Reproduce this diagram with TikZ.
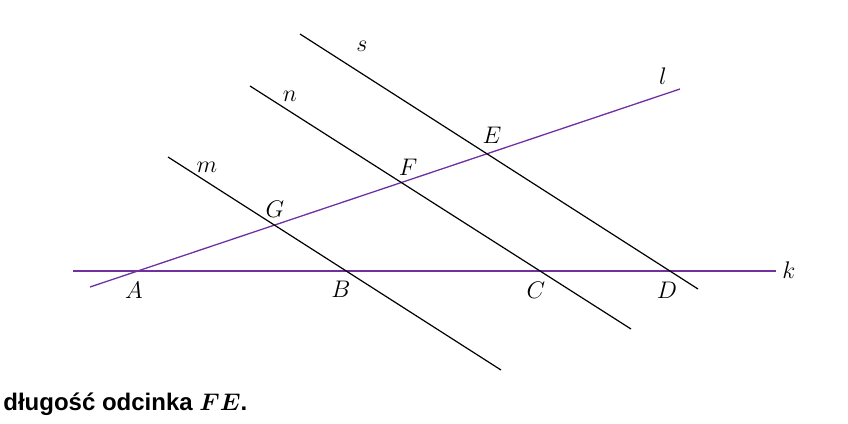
\documentclass[tikz,border=0pt]{standalone}
\usepackage{amsmath}
\usepackage{fontspec}
\setsansfont{Liberation Sans}
\definecolor{linepurple}{HTML}{7030A0}
\newcommand\ptfont{\fontsize{13}{15}\selectfont}
\begin{document}
\begin{tikzpicture}[x=0.5pt, y=-0.5pt,
    kline/.style={draw=linepurple, line width=0.65pt},
    pline/.style={draw=black, line width=0.6pt},
    ptlabel/.style={inner sep=0pt, font=\ptfont}]
  \useasboundingbox (0,0) rectangle (848,424);
  % end points of the lines
  \coordinate (k1) at (73,271);
  \coordinate (k2) at (776,271);
  \coordinate (l1) at (90,287);
  \coordinate (l2) at (680,89);
  \coordinate (m1) at (168,157);
  \coordinate (m2) at (501,370);
  \coordinate (n1) at (250,86);
  \coordinate (n2) at (631,329);
  \coordinate (s1) at (300,34);
  \coordinate (s2) at (698,289);
  % lines
  \draw[kline, line width=0.6pt] (k1) -- (k2);
  \draw[kline] (l1) -- (l2);
  \draw[pline] (m1) -- (m2);
  \draw[pline] (n1) -- (n2);
  \draw[pline] (s1) -- (s2);
  % names of the lines
  \node[ptlabel] (labk) at (789,270) {$k$};
  \node[ptlabel] (labl) at (663,76) {$l$};
  \node[ptlabel] (labm) at (207,167) {$m$};
  \node[ptlabel] (labn) at (290,96) {$n$};
  \node[ptlabel] (labs) at (362,46) {$s$};
  % points
  \node[ptlabel] (A) at (134,290) {$A$};
  \node[ptlabel] (B) at (341,289) {$B$};
  \node[ptlabel] (C) at (536,290) {$C$};
  \node[ptlabel] (D) at (667,290) {$D$};
  \node[ptlabel] (E) at (492,135) {$E$};
  \node[ptlabel] (F) at (408,167) {$F$};
  \node[ptlabel] (G) at (275,209) {$G$};
  \node[anchor=base west, inner sep=0pt, font=\sffamily\bfseries\fontsize{12}{14}\selectfont] (task) at (3,410) {długość odcinka $\boldsymbol{FE}$.};
\end{tikzpicture}
\end{document}
